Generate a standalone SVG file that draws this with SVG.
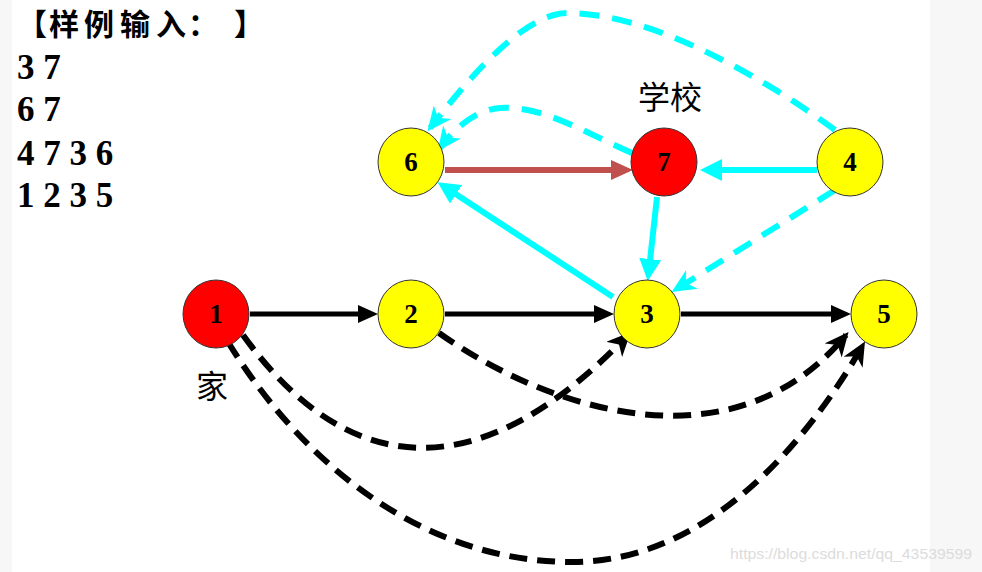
<svg xmlns="http://www.w3.org/2000/svg" width="982" height="572" viewBox="0 0 982 572">
<defs>
<style>
.num{font-family:"Liberation Serif","Times New Roman",serif;font-weight:bold;fill:#000}
.nl{font-family:"Liberation Serif","Times New Roman",serif;font-weight:bold;font-size:27px;text-anchor:middle;fill:#000}
.cjk{font-family:"Noto Sans CJK SC",sans-serif;fill:#000}
.tt{font-family:"Noto Sans CJK SC",sans-serif;font-size:30px;font-weight:bold;fill:#000}
.y{fill:#ffff00;stroke:#333;stroke-width:1}
.r{fill:#ff0000;stroke:#333;stroke-width:1}
.bs{stroke:#000;stroke-width:5;fill:none}
.bd{stroke:#000;stroke-width:6;fill:none;stroke-dasharray:18 10}
.cs{stroke:#00ffff;stroke-width:6;fill:none}
.cd{stroke:#00ffff;stroke-width:6;fill:none;stroke-dasharray:20 13}
.rs{stroke:#c0504d;stroke-width:6;fill:none}
</style>
<marker id="mb" viewBox="0 0 20 18" refX="6" refY="9" markerWidth="20" markerHeight="18" orient="auto" markerUnits="userSpaceOnUse"><path d="M0,0 L20,9 L0,18 Z" fill="#000"/></marker>
<marker id="mc" viewBox="0 0 22 22" refX="6" refY="11" markerWidth="22" markerHeight="22" orient="auto" markerUnits="userSpaceOnUse"><path d="M0,0 L22,11 L0,22 Z" fill="#00ffff"/></marker>
<marker id="mr" viewBox="0 0 22 20" refX="6" refY="10" markerWidth="22" markerHeight="20" orient="auto" markerUnits="userSpaceOnUse"><path d="M0,0 L22,10 L0,20 Z" fill="#c0504d"/></marker>
<marker id="mbd" viewBox="0 0 24 22" refX="20" refY="11" markerWidth="24" markerHeight="22" orient="auto" markerUnits="userSpaceOnUse"><path d="M0,0 L24,11 L0,22 L7,11 Z" fill="#000"/></marker>
<marker id="mcd" viewBox="0 0 24 22" refX="20" refY="11" markerWidth="24" markerHeight="22" orient="auto" markerUnits="userSpaceOnUse"><path d="M0,0 L24,11 L0,22 L7,11 Z" fill="#00ffff"/></marker>
</defs>
<rect width="982" height="572" fill="#ffffff"/>
<rect x="0" y="0" width="12" height="572" fill="#f7f7f7"/>
<rect x="930" y="0" width="52" height="572" fill="#f7f7f7"/>

<g id="sample-input">
<text class="tt" x="17" y="35">【</text>
<text class="tt" x="49" y="35">样</text>
<text class="tt" x="84" y="35">例</text>
<text class="tt" x="120" y="35">输</text>
<text class="tt" x="156" y="35">入</text>
<text class="tt" x="203" y="35" text-anchor="middle">：</text>
<text class="tt" x="234" y="35">】</text>
<text class="num" x="17" y="79" font-size="35">3 7</text>
<text class="num" x="17" y="121" font-size="35">6 7</text>
<text class="num" x="17" y="165" font-size="35">4 7 3 6</text>
<text class="num" x="17" y="207" font-size="35">1 2 3 5</text>
</g>

<g id="connectors">
<line class="bs" x1="250" y1="314" x2="364" y2="314" marker-end="url(#mb)"/>
<line class="bs" x1="445" y1="314" x2="600" y2="314" marker-end="url(#mb)"/>
<line class="bs" x1="681" y1="314" x2="837" y2="314" marker-end="url(#mb)"/>
<line class="rs" x1="445" y1="170" x2="617" y2="170" marker-end="url(#mr)"/>
<line class="cs" x1="817" y1="170" x2="716" y2="170" marker-end="url(#mc)"/>
<line class="cs" x1="657" y1="197" x2="649.5" y2="265" marker-end="url(#mc)"/>
<line class="cs" x1="613" y1="297" x2="451" y2="191" marker-end="url(#mc)"/>
<path class="cd" d="M835,130 C760,75 650,13 568,13 C520,13 460,90 430,128" marker-end="url(#mcd)"/>
<path class="cd" d="M632,153 C580,130 540,105 500,108 C475,110 455,128 440,148" marker-end="url(#mcd)"/>
<path class="cd" d="M835,190 L675,290" marker-end="url(#mcd)"/>
<path class="bd" d="M243,335 C340,470 470,500 628,335" marker-end="url(#mbd)"/>
<path class="bd" d="M439,333 C540,405 730,475 846,335" marker-end="url(#mbd)"/>
<path class="bd" d="M228,342 C300,460 420,562 572,562 C720,562 820,420 863,345" marker-end="url(#mbd)"/>
</g>

<g id="node-6"><ellipse class="y" cx="411" cy="162" rx="33" ry="34"/><text class="nl" x="411" y="171">6</text></g>
<g id="node-7"><ellipse class="r" cx="664" cy="162" rx="33" ry="34"/><text class="nl" x="664" y="171">7</text></g>
<g id="node-4"><ellipse class="y" cx="850" cy="162" rx="33" ry="34"/><text class="nl" x="850" y="171">4</text></g>
<g id="node-1"><ellipse class="r" cx="216" cy="314" rx="33" ry="34"/><text class="nl" x="216" y="323">1</text></g>
<g id="node-2"><ellipse class="y" cx="411" cy="314" rx="33" ry="34"/><text class="nl" x="411" y="323">2</text></g>
<g id="node-3"><ellipse class="y" cx="647" cy="314" rx="33" ry="34"/><text class="nl" x="647" y="323">3</text></g>
<g id="node-5"><ellipse class="y" cx="884" cy="314" rx="33" ry="34"/><text class="nl" x="884" y="323">5</text></g>

<g id="labels">
<text class="cjk" x="670" y="109" font-size="32" text-anchor="middle">学校</text>
<text class="cjk" x="212" y="398" font-size="32" text-anchor="middle">家</text>
</g>
<text x="730" y="559" font-family="Liberation Sans, Arial, sans-serif" font-size="15" fill="#dcdcdc" textLength="242" lengthAdjust="spacingAndGlyphs">https://blog.csdn.net/qq_43539599</text>
</svg>
